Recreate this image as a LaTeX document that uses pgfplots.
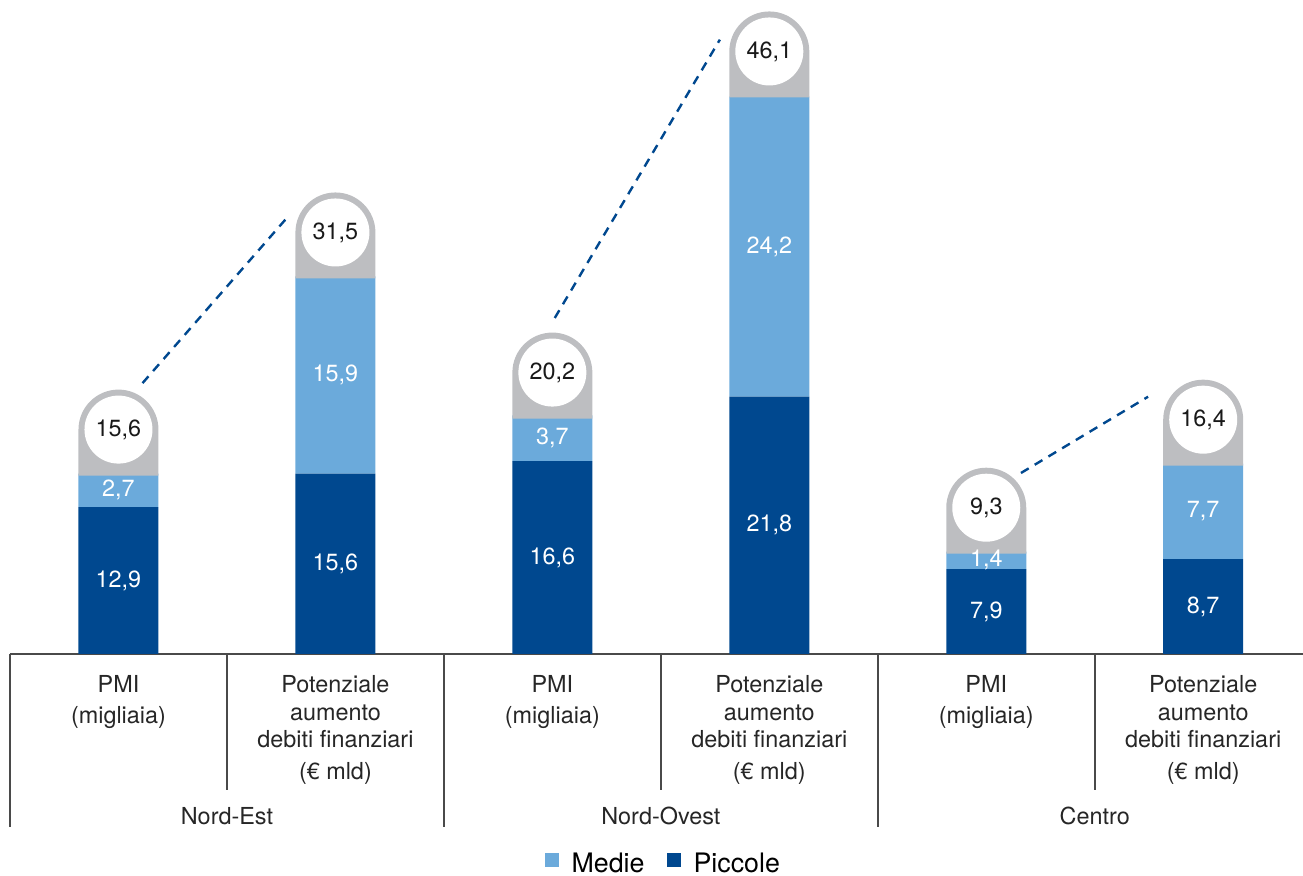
\documentclass[border=0pt]{standalone}
\usepackage{pgfplots}
\pgfplotsset{compat=1.18}
\usepackage{pgfplotstable}
\usepackage{fontspec}
\setmainfont{TeX Gyre Heros}

\definecolor{piccole}{HTML}{00488F}
\definecolor{medie}{HTML}{6BAADB}
\definecolor{capgray}{HTML}{BDBEC1}
\definecolor{rulegray}{HTML}{4A4A4A}

% x: position, p: piccole, m: medie, t: totale
\pgfplotstableread{
x p m t
0 12.9 2.7 15.6
1 15.6 15.9 31.5
2 16.6 3.7 20.2
3 21.8 24.2 46.1
4 7.9 1.4 9.3
5 8.7 7.7 16.4
}\regioni

% rounded grey cap with a white disc, sitting on top of each bar
\pgfdeclareplotmark{cap}{%
  \pgfpathmoveto{\pgfpoint{-20pt}{-1pt}}%
  \pgfpathlineto{\pgfpoint{-20pt}{22pt}}%
  \pgfpatharc{180}{0}{20pt}%
  \pgfpathlineto{\pgfpoint{20pt}{-1pt}}%
  \pgfpathclose
  \pgfsetfillcolor{capgray}%
  \pgfusepathqfill
  \pgfpathcircle{\pgfpoint{0pt}{22pt}}{17pt}%
  \pgfsetfillcolor{white}%
  \pgfusepathqfill
}
% invisible mark, used only to carry value labels
\pgfdeclareplotmark{blank}{}

\newcommand\labfont{\fontsize{11.7}{14.4}\selectfont}

\pgfplotsset{
  frame/.style={
    at={(5pt,111pt)}, anchor=south west,
    width=646.5pt, height=327pt, scale only axis,
    xmin=-0.5, xmax=5.46, ymin=1.05, ymax=53.8,
    /pgf/number format/assume math mode=true,
  },
  valuelabel/.style={
    only marks, mark=blank,
    nodes near coords={\pgfmathprintnumber[fixed,fixed zerofill,precision=1,use comma]{\pgfplotspointmeta}},
    nodes near coords align=center,
    every node near coord/.append style={font=\labfont, inner sep=0pt},
  },
  link/.style={piccole, line width=1.2pt, dash pattern=on 4.5pt off 3.5pt},
}

\begin{document}
\begin{tikzpicture}
\useasboundingbox (0,0) rectangle (651.5pt,438pt);

\begin{axis}[
  frame,
  ybar stacked, bar width=40pt,
  axis x line*=bottom, axis y line=none,
  x axis line style={-, draw=rulegray, line width=0.9pt},
  xtick={0,...,5},
  xticklabels={
    {PMI\\[1pt](migliaia)},
    {Potenziale\\[-0.5pt]aumento\\[-1pt]debiti finanziari\\[1.5pt](€ mld)},
    {PMI\\[1pt](migliaia)},
    {Potenziale\\[-0.5pt]aumento\\[-1pt]debiti finanziari\\[1.5pt](€ mld)},
    {PMI\\[1pt](migliaia)},
    {Potenziale\\[-0.5pt]aumento\\[-1pt]debiti finanziari\\[1.5pt](€ mld)}},
  xticklabel style={font=\labfont, align=center, anchor=north, inner sep=0pt, yshift=-10.6pt, text=black!85},
  major tick length=0pt,
  minor xtick={-0.5,1.5,3.5}, minor tick length=86.5pt,
  extra x ticks={0.5,2.5,4.5}, extra x tick labels={},
  extra x tick style={major tick length=68pt},
  tick align=outside,
  tick style={draw=rulegray, line width=0.9pt},
  ytick=\empty,
  reverse legend,
  legend columns=2,
  legend style={at={(axis description cs:0.506,-0.346)}, anchor=south,
    draw=none, fill=none, inner sep=0pt,
    font=\fontsize{13.4}{16}\selectfont,
    /tikz/every odd column/.append style={column sep=4.5pt},
    /tikz/every even column/.append style={column sep=9pt}},
  legend image code/.code={\fill[#1, draw=none] (0pt,-1pt) rectangle (7pt,6pt);},
]
\addplot[fill=piccole, draw=none] table[x=x, y=p] {\regioni};
\addlegendentry{Piccole}
\addplot[fill=medie, draw=none] table[x=x, y=m] {\regioni};
\addlegendentry{Medie}
\end{axis}

\begin{axis}[frame, hide axis, clip=false]
% dashed links between the two bars of each region
\addplot[link] coordinates {(0.111,22.9) (0.775,36.2)};
\addplot[link] coordinates {(2.011,28.15) (2.772,50.6)};
\addplot[link] coordinates {(4.160,15.65) (4.746,21.8)};

% caps with totals
\addplot[only marks, mark=cap] table[x=x, y=t] {\regioni};
\addplot[valuelabel, point meta=explicit,
  every node near coord/.append style={text=black!90, yshift=22pt}]
  table[x=x, y=t, meta=t] {\regioni};

% segment values
\addplot[valuelabel, point meta=explicit,
  every node near coord/.append style={text=white}]
  table[x=x, y expr={(\thisrow{p}+1.05)/2}, meta=p] {\regioni};
\addplot[valuelabel, point meta=explicit,
  every node near coord/.append style={text=white}]
  table[x=x, y expr={\thisrow{p}+\thisrow{m}/2}, meta=m] {\regioni};

% region names
\node[font=\labfont, anchor=base, yshift=-85.5pt, text=black!85] at (axis cs:0.5,1.05) {Nord-Est};
\node[font=\labfont, anchor=base, yshift=-85.5pt, text=black!85] at (axis cs:2.5,1.05) {Nord-Ovest};
\node[font=\labfont, anchor=base, yshift=-85.5pt, text=black!85] at (axis cs:4.5,1.05) {Centro};
\end{axis}
\end{tikzpicture}
\end{document}
